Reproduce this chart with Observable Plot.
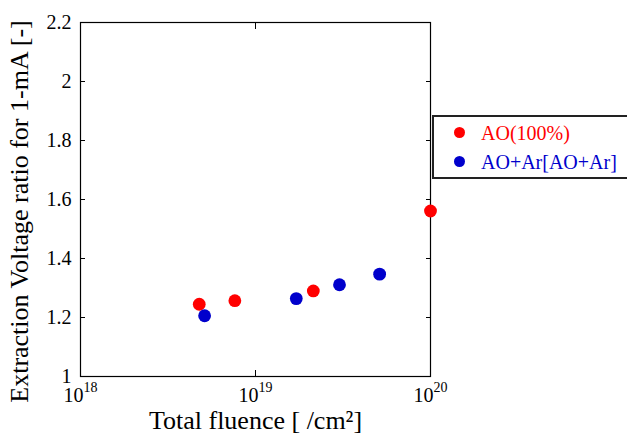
<!DOCTYPE html>
<html><head><meta charset="utf-8">
<script src="https://cdn.jsdelivr.net/npm/d3@7"></script>
<script src="https://cdn.jsdelivr.net/npm/@observablehq/plot@0.6"></script>
<style>
body{margin:0;overflow:hidden;background:#fff}
#wrap{position:relative;width:627px;height:433px;overflow:hidden;font-family:"Liberation Serif","Times New Roman",Times,"DejaVu Serif",serif}
#wrap svg text{font-family:"Liberation Serif","Times New Roman",Times,"DejaVu Serif",serif}
#legend{position:absolute;left:432px;top:115px;width:220px;height:64px;border:2px solid #222;background:#fff;box-sizing:border-box}
.item{position:absolute;left:47px;font-size:20px;line-height:20px;white-space:nowrap}
.dot{position:absolute;left:20px;width:11px;height:11px;border-radius:50%}
</style></head><body><div id="wrap"></div>
<script>
const seriesNames = ["AO(100%)", "AO+Ar[AO+Ar]"];
const seriesColors = ["#ff0000", "#0000cc"];
const fluenceAO = [4.77e18, 7.62e18, 2.14e19, 1.0e20];
const ratioAO = [1.245, 1.257, 1.290, 1.561];
const fluenceAOAr = [5.12e18, 1.71e19, 3.02e19, 5.12e19];
const ratioAOAr = [1.206, 1.264, 1.311, 1.347];
const xTicks = [1e18, 1e19, 1e20];
const xTickLabels = ["10^18", "10^19", "10^20"];
const yTicks = [1, 1.2, 1.4, 1.6, 1.8, 2, 2.2];
const yTickLabels = ["1", "1.2", "1.4", "1.6", "1.8", "2", "2.2"];
const xLabel = "Total fluence [ /cm²]";
const yLabel = "Extraction Voltage ratio for 1-mA [-]";

const data = [
  ...fluenceAO.map((f, i) => ({fluence: f, ratio: ratioAO[i], series: seriesNames[0]})),
  ...fluenceAOAr.map((f, i) => ({fluence: f, ratio: ratioAOAr[i], series: seriesNames[1]}))
];

const nearestIndex = (arr, v, log) => {
  let best = 0, bd = Infinity;
  arr.forEach((a, i) => {
    const d = log ? Math.abs(Math.log10(a) - Math.log10(v)) : Math.abs(a - v);
    if (d < bd) { bd = d; best = i; }
  });
  return best;
};

const chart = Plot.plot({
  width: 627, height: 433,
  marginTop: 22, marginLeft: 80, marginRight: 197, marginBottom: 57,
  style: {fontFamily: "Liberation Serif, serif", fontSize: "20px", color: "#000", background: "transparent"},
  x: {type: "log", domain: [1e18, 1e20]},
  y: {domain: [1, 2.2]},
  color: {domain: seriesNames, range: seriesColors},
  marks: [
    Plot.frame({stroke: "#000", strokeWidth: 1.2}),
    Plot.axisX({anchor: "bottom", ticks: xTicks, tickSize: 0, tickPadding: 11,
      tickFormat: d => xTickLabels[nearestIndex(xTicks, d, true)], label: xLabel, labelAnchor: "center", labelOffset: 52, labelArrow: "none"}),
    Plot.axisX({anchor: "bottom", ticks: [xTicks[1]], tickSize: -6, tickFormat: () => "", label: null}),
    Plot.axisX({anchor: "top", ticks: [xTicks[1]], tickSize: -6, tickFormat: () => "", label: null}),
    Plot.axisY({anchor: "left", ticks: yTicks, tickSize: 0, tickPadding: 9,
      tickFormat: d => yTickLabels[nearestIndex(yTicks, d, false)], label: yLabel, labelAnchor: "center", labelOffset: 71, labelArrow: "none"}),
    Plot.axisY({anchor: "left", ticks: yTicks, tickSize: -5, tickFormat: () => "", label: null}),
    Plot.axisY({anchor: "right", ticks: yTicks, tickSize: -5, tickFormat: () => "", label: null}),
    Plot.dot(data, {x: "fluence", y: "ratio", fill: "series", r: 6.4})
  ]
});

const ns = "http://www.w3.org/2000/svg";
chart.querySelectorAll("text").forEach(t => {
  const s = t.textContent;
  if (!s.includes("^")) return;
  const [b, e] = s.split("^");
  t.textContent = "";
  const t1 = document.createElementNS(ns, "tspan"); t1.textContent = b;
  const t2 = document.createElementNS(ns, "tspan");
  t2.setAttribute("dy", "-10"); t2.setAttribute("font-size", "14"); t2.textContent = e;
  t.append(t1, t2);
});
chart.querySelectorAll("text").forEach(t => {
  if (t.textContent === xLabel) t.setAttribute("font-size", "26");
  if (t.textContent === yLabel) { t.setAttribute("font-size", "26"); t.setAttribute("dx", "-12"); }
});

const wrap = document.getElementById("wrap");
wrap.appendChild(chart);

const legend = document.createElement("div");
legend.id = "legend";
seriesNames.forEach((name, i) => {
  const dot = document.createElement("div");
  dot.className = "dot";
  dot.style.background = seriesColors[i];
  dot.style.top = (10 + i * 29) + "px";
  const item = document.createElement("div");
  item.className = "item";
  item.style.color = seriesColors[i];
  item.style.top = (5.5 + i * 29.7) + "px";
  item.textContent = name;
  legend.append(dot, item);
});
wrap.appendChild(legend);
</script>
</body></html>
